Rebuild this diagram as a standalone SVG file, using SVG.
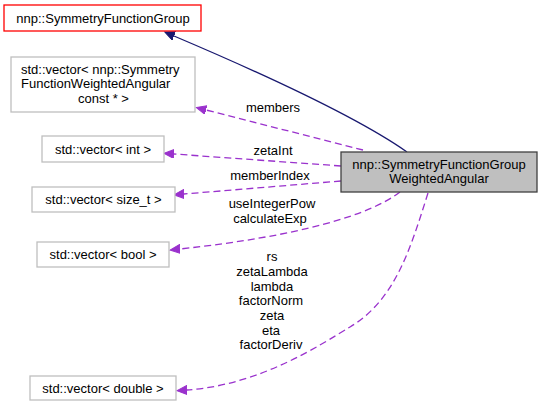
<svg xmlns="http://www.w3.org/2000/svg" width="543" height="407" viewBox="0 0 543 407">
<style>
text{font-family:"Liberation Sans",Arial,sans-serif;font-size:13px;fill:#000}
.m{text-anchor:middle}
.box{fill:#fff;stroke:#bfbfbf;stroke-width:1.3}
.use{fill:none;stroke:#9a32cd;stroke-width:1.3;stroke-dasharray:7,4}
.inh{fill:none;stroke:#191970;stroke-width:1.3}
</style>
<defs>
<marker id="ap" markerUnits="userSpaceOnUse" markerWidth="12" markerHeight="10" refX="0" refY="4.5" orient="auto"><path d="M0,0 L10,4.5 L0,9 z" fill="#9a32cd" stroke="#9a32cd"/></marker>
<marker id="an" markerUnits="userSpaceOnUse" markerWidth="12" markerHeight="10" refX="0" refY="4.5" orient="auto"><path d="M0,0 L10,4.5 L0,9 z" fill="#191970" stroke="#191970"/></marker>
</defs>
<g id="connectors">
<path class="inh" d="M407,152 C350,112 240,64 174,36" marker-end="url(#an)"/>
<path class="use" d="M363,150 L206,110" marker-end="url(#ap)"/>
<path class="use" d="M341,166 L174,154" marker-end="url(#ap)"/>
<path class="use" d="M341,181 L184,194" marker-end="url(#ap)"/>
<path class="use" d="M400,192 C370,215 300,236 180,249" marker-end="url(#ap)"/>
<path class="use" d="M428,193 C410,250 395,300 350,327 C320,345 260,385 187,390" marker-end="url(#ap)"/>
<text class="m" x="273" y="112">members</text>
<text class="m" x="273" y="155">zetaInt</text>
<text class="m" x="270" y="180">memberIndex</text>
<text class="m" x="272" y="208">useIntegerPow</text>
<text class="m" x="270" y="223">calculateExp</text>
<text class="m" x="272" y="261">rs</text>
<text class="m" x="272" y="275.5">zetaLambda</text>
<text class="m" x="272" y="290.5">lambda</text>
<text class="m" x="271" y="305">factorNorm</text>
<text class="m" x="272" y="320">zeta</text>
<text class="m" x="271" y="334.5">eta</text>
<text class="m" x="271" y="349">factorDeriv</text>
</g>
<g id="main">
<rect x="341" y="152" width="196" height="40" fill="#bfbfbf" stroke="#404040" stroke-width="1.3"/>
<text class="m" x="439" y="168.5">nnp::SymmetryFunctionGroup</text>
<text class="m" x="439" y="183">WeightedAngular</text>
</g>
<g id="base">
<rect x="4" y="5" width="197" height="26" fill="#fff" stroke="#ff0000" stroke-width="1.3"/>
<text class="m" x="103" y="22.5">nnp::SymmetryFunctionGroup</text>
</g>
<g id="vec_members">
<rect class="box" x="11" y="57" width="184" height="55"/>
<text x="21" y="73.5">std::vector&lt; nnp::Symmetry</text>
<text x="21" y="88">FunctionWeightedAngular</text>
<text class="m" x="103.5" y="102.5">const * &gt;</text>
</g>
<g id="vec_int">
<rect class="box" x="42" y="136" width="122" height="26"/>
<text class="m" x="103" y="153.5">std::vector&lt; int &gt;</text>
</g>
<g id="vec_size_t">
<rect class="box" x="32" y="187" width="143" height="25"/>
<text class="m" x="103.5" y="203.5">std::vector&lt; size_t &gt;</text>
</g>
<g id="vec_bool">
<rect class="box" x="37" y="242" width="132" height="25"/>
<text class="m" x="103" y="258.5">std::vector&lt; bool &gt;</text>
</g>
<g id="vec_double">
<rect class="box" x="30" y="376" width="146" height="24"/>
<text class="m" x="103" y="392.5">std::vector&lt; double &gt;</text>
</g>
</svg>
